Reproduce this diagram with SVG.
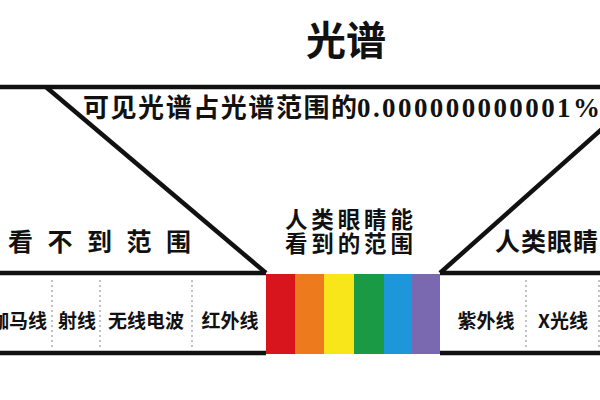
<svg xmlns="http://www.w3.org/2000/svg" width="600" height="400" viewBox="0 0 600 400">
<style>
.cjk{font-family:"Noto Sans CJK SC","Noto Sans",sans-serif;fill:#111}
.b{font-weight:700}
.ln{stroke:#111;stroke-width:4.5;fill:none;stroke-linecap:butt}
.dot{stroke:#999;stroke-width:1.2;stroke-dasharray:2 3;fill:none}
.lbl{font-size:19px;font-weight:700}
</style>
<rect width="600" height="400" fill="#ffffff"/>
<g id="title"><text class="cjk b" x="346" y="55" font-size="40" text-anchor="middle">光谱</text></g>
<g id="frame">
<line class="ln" x1="0" y1="87" x2="600" y2="87"/>
<line class="ln" x1="46" y1="87" x2="266" y2="273"/>
<line class="ln" x1="603" y1="128" x2="440" y2="273"/>
<line class="ln" x1="0" y1="273" x2="266" y2="273"/>
<line class="ln" x1="440" y1="273" x2="600" y2="273"/>
<line class="ln" x1="0" y1="353" x2="266" y2="353"/>
<line class="ln" x1="440" y1="353" x2="600" y2="353"/>
</g>
<g id="ratio">
<text class="cjk b" x="83" y="117" font-size="26" textLength="274" lengthAdjust="spacing">可见光谱占光谱范围的</text>
<text x="357" y="117" font-size="27" font-family="Liberation Serif,serif" font-weight="700" fill="#111" textLength="243" lengthAdjust="spacing">0.000000000001%</text>
</g>
<g id="invisible-left"><text class="cjk b" x="8" y="251" font-size="25" letter-spacing="14.5">看不到范围</text></g>
<g id="visible-label">
<text class="cjk b" font-size="22.5"><tspan x="285" y="228" textLength="128" lengthAdjust="spacing">人类眼睛能</tspan><tspan x="285" y="252" textLength="128" lengthAdjust="spacing">看到的范围</tspan></text>
</g>
<g id="invisible-right"><text class="cjk b" x="495" y="251" font-size="25" letter-spacing="1">人类眼睛</text></g>
<g id="spectrum">
<rect x="266" y="274" width="29" height="80" fill="#d8141d"/>
<rect x="295" y="274" width="29" height="80" fill="#ee7a1e"/>
<rect x="324" y="274" width="30" height="80" fill="#f8e61a"/>
<rect x="354" y="274" width="30" height="80" fill="#1b9a46"/>
<rect x="384" y="274" width="28" height="80" fill="#1d97d9"/>
<rect x="412" y="274" width="28" height="80" fill="#7a69b1"/>
</g>
<g id="dividers">
<line class="dot" x1="52" y1="280" x2="52" y2="350"/>
<line class="dot" x1="100" y1="280" x2="100" y2="350"/>
<line class="dot" x1="192" y1="280" x2="192" y2="350"/>
<line class="dot" x1="526" y1="280" x2="526" y2="350"/>
<line class="dot" x1="599" y1="280" x2="599" y2="350"/>
</g>
<g id="bands">
<text class="cjk lbl" x="47" y="328" text-anchor="end">伽马线</text>
<text class="cjk lbl" x="77" y="328" text-anchor="middle">射线</text>
<text class="cjk lbl" x="146" y="328" text-anchor="middle">无线电波</text>
<text class="cjk lbl" x="230" y="328" text-anchor="middle">红外线</text>
<text class="cjk lbl" x="486" y="328" text-anchor="middle">紫外线</text>
<text class="cjk lbl" x="563" y="328" text-anchor="middle">X光线</text>
</g>
</svg>
